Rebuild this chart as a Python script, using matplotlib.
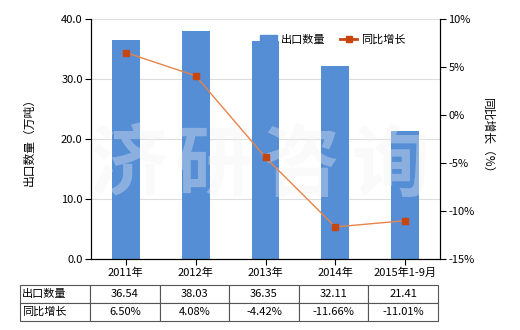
import numpy as np
import matplotlib.pyplot as plt
from matplotlib.lines import Line2D
from matplotlib.patches import Patch

plt.rcParams['font.family'] = ['Noto Sans CJK SC', 'DejaVu Sans']

# ==========================
# 数据
# ==========================
years = ["2011年", "2012年", "2013年", "2014年", "2015年1-9月"]
export_qty = [36.54, 38.03, 36.35, 32.11, 21.41]
yoy_growth = [6.50, 4.08, -4.42, -11.66, -11.01]
qty_labels = ["36.54", "38.03", "36.35", "32.11", "21.41"]
growth_labels = ["6.50%", "4.08%", "-4.42%", "-11.66%", "-11.01%"]

bar_color = "#558ED5"
line_color = "#E8834A"
marker_color = "#C8460E"

fig = plt.figure(figsize=(5.2, 3.3), dpi=100)
ax = fig.add_axes([91/520, 1-259/330, 349/520, 240/330])
x = np.arange(len(years))

ax.bar(x, export_qty, width=0.4, color=bar_color, zorder=2)
ax.set_xlim(-0.5, len(years)-0.5)
ax.set_ylim(0, 40)
ax.set_yticks([0, 10, 20, 30, 40])
ax.set_yticklabels([f"{v:.1f}" for v in [0, 10, 20, 30, 40]], fontsize=8)
ax.yaxis.grid(True, color="#DDDDDD", linewidth=0.8, zorder=0)
ax.set_axisbelow(True)
ax.set_xticks(x)
ax.set_xticklabels(years, fontsize=8)
ax.tick_params(axis="x", length=4, pad=2)
ax.tick_params(axis="y", length=4, pad=2)
ax.spines["top"].set_visible(False)
ax.set_ylabel("出口数量（万吨）", fontsize=8.5, labelpad=18)

# 水印
for cx, ch in zip([128, 213, 300, 390], "济研咨询"):
    ax.text((cx-91)/349, (259-167)/240, ch, transform=ax.transAxes, fontsize=56,
            fontweight="bold", color="#F2F2F2", alpha=0.35, ha="center", va="center", zorder=3)

ax2 = ax.twinx()
ax2.plot(x, yoy_growth, color=line_color, linewidth=1, marker="s", markersize=5,
         markerfacecolor=marker_color, markeredgecolor=marker_color, zorder=4)
ax2.set_ylim(-15, 10)
ax2.set_yticks([-15, -10, -5, 0, 5, 10])
ax2.set_yticklabels([f"{v}%" for v in [-15, -10, -5, 0, 5, 10]], fontsize=8)
ax2.tick_params(axis="y", length=4, pad=2)
ax2.spines["top"].set_visible(False)
ax2.set_ylabel("同比增长（%）", fontsize=8.5, rotation=270, labelpad=14)

handles = [Patch(color=bar_color),
           Line2D([0], [0], color=marker_color, linewidth=2, marker="s", markersize=4)]
leg = fig.legend(handles, ["出口数量", "同比增长"], loc="upper left", ncol=2, frameon=False,
                 fontsize=8, bbox_to_anchor=(254/520, 1-29/330), handlelength=1.6,
                 handleheight=0.9, columnspacing=1.3, borderpad=0, handletextpad=0.3)

# ==========================
# 表格
# ==========================
cells = [["出口数量"] + qty_labels, ["同比增长"] + growth_labels]
col_w = [70] + [69.6]*5
tot = sum(col_w)
tbl = ax.table(cellText=cells, cellLoc="center",
               colWidths=[w/tot for w in col_w],
               bbox=[(20-91)/349, -62/240, 418/349, 36/240])
tbl.auto_set_font_size(False)
tbl.set_fontsize(8)
for (r, c), cell in tbl.get_celld().items():
    cell.set_edgecolor("#555555")
    cell.set_linewidth(0.8)
    if c == 0:
        cell.set_text_props(ha="left")
        cell.PAD = 0.03

fig.savefig("out.png", dpi=100)
plt.close()
